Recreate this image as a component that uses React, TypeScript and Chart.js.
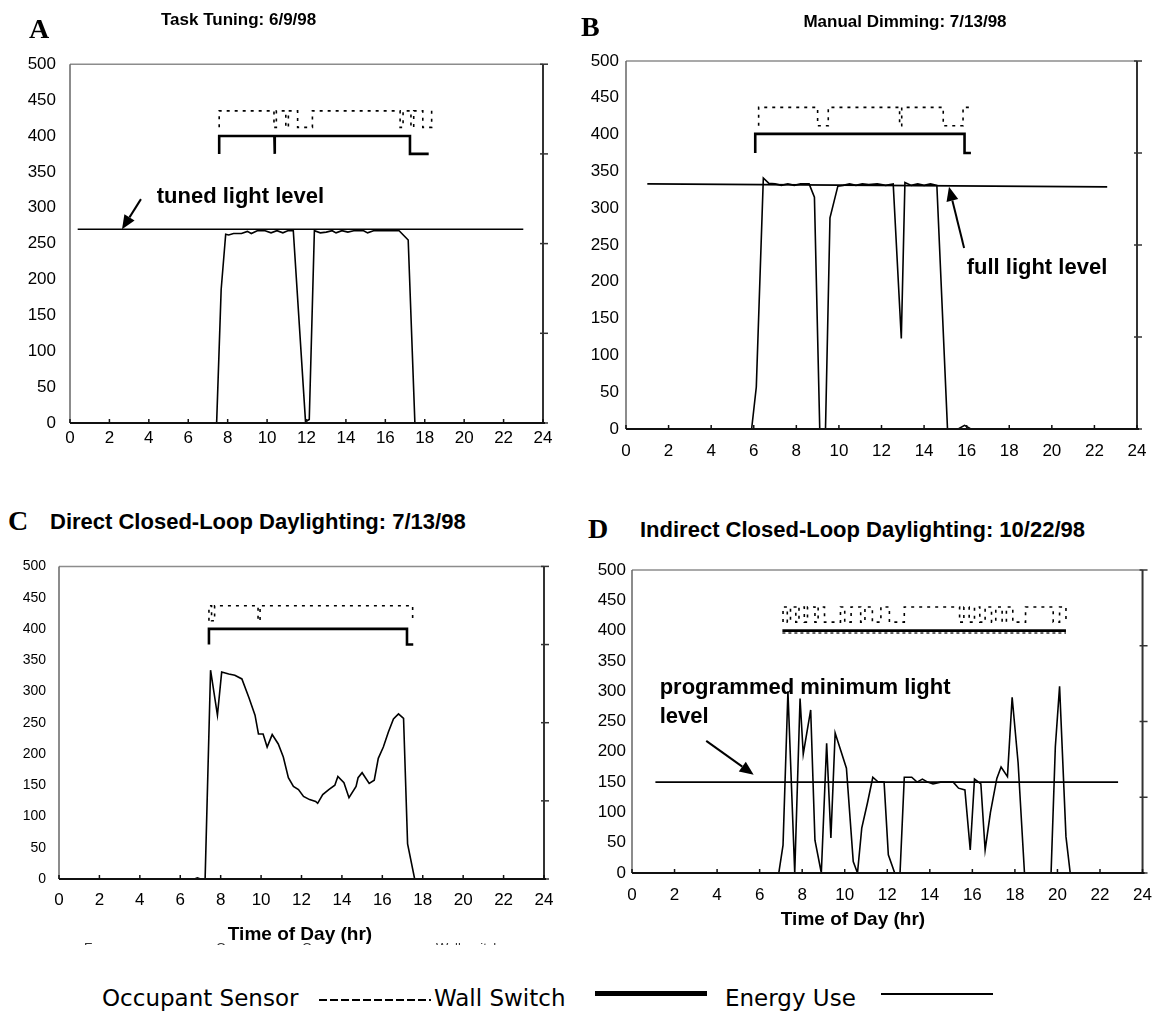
import React, { useEffect, useRef } from "react";
import { Chart, registerables } from "chart.js";
Chart.register(...registerables);

type Pt = [number, number];

const SANS = '"Liberation Sans", Arial, Helvetica, sans-serif';
const SERIF = '"Liberation Serif", "Times New Roman", serif';
const LEGEND_FONT = '"DejaVu Sans", Verdana, sans-serif';

// shared axes
const hourTicks = [0, 2, 4, 6, 8, 10, 12, 14, 16, 18, 20, 22, 24];
const lightTicks = [0, 50, 100, 150, 200, 250, 300, 350, 400, 450, 500];
const frameTicks = [0, 125, 250, 375, 500];

// ---------- Panel A: Task Tuning 6/9/98 ----------
const taskEnergy: Pt[] = [
  [0, 0], [7.44, 0], [7.67, 186], [7.9, 263], [8.05, 262], [8.3, 264], [8.7, 264], [9.0, 267],
  [9.2, 264], [9.5, 268], [9.9, 268], [10.2, 265], [10.5, 268], [10.8, 265], [11.05, 268],
  [11.33, 268], [11.95, 2], [12.14, 5], [12.4, 268], [12.7, 265], [13.0, 266], [13.3, 268],
  [13.5, 265], [13.8, 268], [14.1, 266], [14.4, 268], [14.9, 268], [15.1, 265], [15.4, 268],
  [16.0, 268], [16.7, 268], [17.16, 255], [17.5, 0], [23.5, 0],
];
const taskLevel: Pt[] = [[0.39, 270], [23.0, 270]];
const taskWall: Pt[] = [
  [7.57, 375], [7.57, 400], [10.37, 400], [10.37, 375], [10.4, 375], [10.4, 400],
  [17.25, 400], [17.25, 375], [18.2, 375],
];
const taskOccupant: Pt[] = [
  [7.57, 412], [7.57, 435], [10.35, 435], [10.35, 412], [10.47, 412], [10.47, 435],
  [10.95, 435], [10.95, 412], [11.08, 412], [11.08, 435], [11.55, 435], [11.55, 412],
  [12.3, 412], [12.3, 435], [16.75, 435], [16.75, 412], [16.9, 412], [16.9, 435],
  [17.3, 435], [17.3, 412], [17.44, 412], [17.44, 435], [17.9, 435], [17.9, 412],
  [18.35, 412], [18.35, 435],
];

// ---------- Panel B: Manual Dimming 7/13/98 ----------
const dimEnergy: Pt[] = [
  [0.5, 0], [5.9, 0], [6.12, 57], [6.45, 341], [6.7, 334], [7.0, 333], [7.3, 331], [7.6, 333],
  [7.9, 331], [8.2, 333], [8.6, 333], [8.85, 315], [9.1, 0], [9.37, 0], [9.58, 287], [9.95, 330],
  [10.2, 331], [10.5, 333], [10.8, 331], [11.1, 333], [11.4, 332], [11.8, 333], [12.2, 331],
  [12.55, 333], [12.93, 123], [13.1, 335], [13.4, 331], [13.7, 333], [14.0, 331], [14.3, 333],
  [14.6, 331], [15.1, 0], [15.6, 0], [15.9, 5], [16.2, 0], [23.5, 0],
];
const dimLevel: Pt[] = [[1.0, 333], [22.6, 329]];
const dimWall: Pt[] = [[6.07, 375], [6.07, 401], [15.9, 401], [15.9, 375], [16.2, 375]];
const dimOccupant: Pt[] = [
  [6.23, 412], [6.23, 437], [9.0, 437], [9.0, 412], [9.5, 412], [9.5, 437], [12.85, 437],
  [12.85, 412], [12.95, 412], [12.95, 437], [14.9, 437], [14.9, 412], [15.83, 412],
  [15.83, 437], [16.13, 437],
];

// ---------- Panel C: Direct Closed-Loop Daylighting 7/13/98 ----------
const directEnergy: Pt[] = [
  [0, 0], [6.7, 0], [6.85, 2], [7.0, 0], [7.23, 0], [7.5, 334], [7.84, 262], [8.05, 331],
  [8.4, 328], [8.7, 326], [9.05, 320], [9.4, 290], [9.7, 262], [9.87, 232], [10.1, 232],
  [10.3, 211], [10.55, 231], [10.85, 216], [11.1, 195], [11.35, 162], [11.6, 148], [11.85, 143],
  [12.1, 132], [12.4, 127], [12.7, 124], [12.8, 121], [13.05, 135], [13.35, 143], [13.65, 150],
  [13.8, 164], [14.1, 154], [14.35, 130], [14.7, 148], [14.8, 162], [15.0, 170], [15.35, 153],
  [15.6, 158], [15.8, 193], [16.05, 211], [16.3, 235], [16.55, 256], [16.8, 264], [17.05, 257],
  [17.25, 56], [17.6, 0], [23.5, 0],
];
const directWall: Pt[] = [[7.42, 375], [7.42, 400], [17.22, 400], [17.22, 375], [17.53, 375]];
const directOccupant: Pt[] = [
  [7.42, 413], [7.42, 437], [7.55, 437], [7.55, 413], [7.7, 413], [7.7, 437], [9.85, 437],
  [9.85, 413], [9.95, 413], [9.95, 437], [17.5, 437], [17.5, 413],
];

// ---------- Panel D: Indirect Closed-Loop Daylighting 10/22/98 ----------
const indirectEnergy: Pt[] = [
  [0, 0], [6.9, 0], [7.1, 46], [7.33, 300], [7.65, 0], [7.9, 288], [8.05, 196], [8.4, 269],
  [8.6, 54], [8.9, 0], [9.15, 214], [9.35, 58], [9.55, 231], [10.08, 173], [10.4, 19], [10.6, 0],
  [10.8, 74], [11.07, 116], [11.32, 158], [11.55, 151], [11.85, 150], [12.05, 30], [12.35, 0],
  [12.6, 0], [12.8, 158], [13.15, 158], [13.4, 150], [13.65, 155], [13.9, 150], [14.15, 147],
  [14.5, 150], [15.1, 150], [15.35, 140], [15.65, 137], [15.9, 38], [16.1, 155], [16.4, 147],
  [16.6, 38], [16.85, 100], [17.15, 156], [17.35, 175], [17.65, 159], [17.87, 290], [18.15, 182],
  [18.45, 0], [19.7, 0], [19.9, 208], [20.1, 308], [20.4, 60], [20.6, 0], [23.5, 0],
];
const indirectLevel: Pt[] = [[1.1, 150], [22.85, 150]];
const indirectWall: Pt[] = [[7.07, 400], [20.4, 400]];
const indirectOccupant: Pt[] = [
  [7.1, 414], [7.1, 439], [7.3, 439], [7.3, 414], [7.45, 414], [7.45, 439], [7.7, 439],
  [7.7, 414], [7.85, 414], [7.85, 439], [8.1, 439], [8.1, 414], [8.25, 414], [8.25, 439],
  [8.6, 439], [8.6, 414], [8.75, 414], [8.75, 439], [9.05, 439], [9.05, 414], [9.8, 414],
  [9.8, 439], [10.0, 439], [10.0, 414], [10.3, 414], [10.3, 439], [10.75, 439], [10.75, 414],
  [10.95, 414], [10.95, 439], [11.3, 439], [11.3, 414], [11.7, 414], [11.7, 439], [12.1, 439],
  [12.1, 414], [12.8, 414], [12.8, 439], [15.4, 439], [15.4, 414], [15.6, 414], [15.6, 439],
  [15.85, 439], [15.85, 414], [16.1, 414], [16.1, 439], [16.35, 439], [16.35, 414], [16.6, 414],
  [16.6, 439], [16.9, 439], [16.9, 414], [17.1, 414], [17.1, 439], [17.4, 439], [17.4, 414],
  [17.6, 414], [17.6, 439], [17.9, 439], [17.9, 414], [18.5, 414], [18.5, 439], [19.8, 439],
  [19.8, 414], [20.1, 414], [20.1, 439], [20.4, 439], [20.4, 414],
];
const indirectWallShadow: Pt[] = [[7.07, 396], [20.4, 396]];

type Note = { text: string; at: Pt };
type Arrow = { from: Pt; to: Pt };

interface PanelSpec {
  energy: Pt[];
  level: Pt[] | null;
  wall: Pt[];
  occupant: Pt[];
  extraDotted?: Pt[];
  box: { left: number; top: number; width: number; height: number };
  plot: { l: number; t: number; r: number; b: number };
  yFont: number;
  xFont: number;
  yPad: number;
  xPad: number;
  notes: Note[];
  arrows: Arrow[];
}

const panels: PanelSpec[] = [
  {
    energy: taskEnergy, level: taskLevel, wall: taskWall, occupant: taskOccupant,
    box: { left: 0, top: 40, width: 565, height: 430 },
    plot: { l: 70, t: 58, r: 543, b: 423 },
    yFont: 17, xFont: 17, yPad: 14, xPad: 5,
    notes: [{ text: "tuned light level", at: [4.4, 315] }],
    arrows: [{ from: [3.6, 312], to: [2.64, 270] }],
  },
  {
    energy: dimEnergy, level: dimLevel, wall: dimWall, occupant: dimOccupant,
    box: { left: 565, top: 40, width: 599, height: 430 },
    plot: { l: 626, t: 61, r: 1137, b: 429 },
    yFont: 17, xFont: 17, yPad: 7, xPad: 12,
    notes: [{ text: "full light level", at: [16.0, 219] }],
    arrows: [{ from: [15.88, 246], to: [15.17, 329] }],
  },
  {
    energy: directEnergy, level: null, wall: directWall, occupant: directOccupant,
    box: { left: 0, top: 545, width: 565, height: 385 },
    plot: { l: 59, t: 562, r: 544, b: 879 },
    yFont: 14, xFont: 17, yPad: 13, xPad: 11,
    notes: [],
    arrows: [],
  },
  {
    energy: indirectEnergy, level: indirectLevel, wall: indirectWall, occupant: indirectOccupant,
    extraDotted: indirectWallShadow,
    box: { left: 565, top: 550, width: 599, height: 360 },
    plot: { l: 632, t: 570, r: 1148, b: 873 },
    yFont: 17, xFont: 17, yPad: 6, xPad: 12,
    notes: [
      { text: "programmed minimum light", at: [1.3, 305] },
      { text: "level", at: [1.3, 257] },
    ],
    arrows: [{ from: [3.49, 218], to: [5.72, 162] }],
  },
];

const toXY = (pts: Pt[]) => pts.map(([x, y]) => ({ x, y }));

function PanelChart({ spec }: { spec: PanelSpec }) {
  const ref = useRef<HTMLCanvasElement | null>(null);
  useEffect(() => {
    if (!ref.current) return;
    const { box, plot } = spec;
    const deco = {
      id: "deco",
      afterDatasetsDraw(chart: any) {
        const { ctx, chartArea: a, scales } = chart;
        const line = (x1: number, y1: number, x2: number, y2: number, c: string, w: number) => {
          ctx.beginPath();
          ctx.strokeStyle = c;
          ctx.lineWidth = w;
          ctx.moveTo(x1, y1);
          ctx.lineTo(x2, y2);
          ctx.stroke();
        };
        ctx.save();
        ctx.setLineDash([]);
        line(a.left, a.top, a.right, a.top, "#8c8c8c", 1.5);
        line(a.left, a.top, a.left, a.bottom, "#666", 1.5);
        line(a.right, a.top, a.right, a.bottom + 1, "#333", 2);
        frameTicks.forEach((v) => {
          const y = scales.y.getPixelForValue(v);
          line(a.right - 3, y, a.right + 5, y, "#333", 1.5);
        });
        line(a.left, a.bottom, a.right + 2, a.bottom, "#111", 2);
        hourTicks.forEach((v) => {
          const x = scales.x.getPixelForValue(v);
          line(x, a.bottom, x, a.bottom - 4, "#111", 1.5);
        });
        spec.arrows.forEach((ar) => {
          const x1 = scales.x.getPixelForValue(ar.from[0]);
          const y1 = scales.y.getPixelForValue(ar.from[1]);
          const x2 = scales.x.getPixelForValue(ar.to[0]);
          const y2 = scales.y.getPixelForValue(ar.to[1]);
          const ang = Math.atan2(y2 - y1, x2 - x1);
          const hl = 14, hw = 6;
          const bx = x2 - hl * Math.cos(ang);
          const by = y2 - hl * Math.sin(ang);
          line(x1, y1, bx, by, "#000", 2);
          ctx.beginPath();
          ctx.fillStyle = "#000";
          ctx.moveTo(x2, y2);
          ctx.lineTo(bx + hw * Math.sin(ang), by - hw * Math.cos(ang));
          ctx.lineTo(bx - hw * Math.sin(ang), by + hw * Math.cos(ang));
          ctx.closePath();
          ctx.fill();
        });
        ctx.fillStyle = "#000";
        ctx.font = `bold 22px ${SANS}`;
        ctx.textAlign = "left";
        ctx.textBaseline = "middle";
        spec.notes.forEach((n) => {
          ctx.fillText(n.text, scales.x.getPixelForValue(n.at[0]), scales.y.getPixelForValue(n.at[1]));
        });
        ctx.restore();
      },
    };
    const datasets: any[] = [
      { data: toXY(spec.energy), borderColor: "#000", borderWidth: 1.6 },
    ];
    if (spec.level) datasets.push({ data: toXY(spec.level), borderColor: "#000", borderWidth: 1.6 });
    datasets.push({ data: toXY(spec.wall), borderColor: "#000", borderWidth: 2.6 });
    datasets.push({ data: toXY(spec.occupant), borderColor: "#000", borderWidth: 1.6, borderDash: [3, 5] });
    if (spec.extraDotted)
      datasets.push({ data: toXY(spec.extraDotted), borderColor: "#222", borderWidth: 1.4, borderDash: [3, 3] });
    datasets.forEach((d) => {
      d.pointRadius = 0;
      d.fill = false;
      d.tension = 0;
    });
    const chart = new Chart(ref.current, {
      type: "line",
      data: { datasets },
      options: {
        responsive: false,
        animation: false,
        devicePixelRatio: 1,
        layout: {
          padding: { top: plot.t - box.top, right: box.left + box.width - plot.r, left: 0, bottom: 0 },
        },
        plugins: { legend: { display: false }, tooltip: { enabled: false } },
        scales: {
          x: {
            type: "linear",
            min: 0,
            max: 24,
            afterBuildTicks: (s: any) => {
              s.ticks = hourTicks.map((v) => ({ value: v }));
            },
            afterFit: (s: any) => {
              s.height = box.top + box.height - plot.b;
            },
            grid: { display: false, drawTicks: false },
            border: { display: false },
            ticks: {
              padding: spec.xPad,
              color: "#000",
              font: { family: SANS, size: spec.xFont },
              maxRotation: 0,
              autoSkip: false,
            },
          },
          y: {
            type: "linear",
            min: 0,
            max: 500,
            afterBuildTicks: (s: any) => {
              s.ticks = lightTicks.map((v) => ({ value: v }));
            },
            afterFit: (s: any) => {
              s.width = plot.l - box.left;
            },
            grid: { display: false, drawTicks: false },
            border: { display: false },
            ticks: { padding: spec.yPad, color: "#000", font: { family: SANS, size: spec.yFont } },
          },
        },
      } as any,
      plugins: [deco],
    });
    return () => chart.destroy();
  }, [spec]);
  return (
    <canvas
      ref={ref}
      width={spec.box.width}
      height={spec.box.height}
      style={{ position: "absolute", left: spec.box.left, top: spec.box.top, width: spec.box.width, height: spec.box.height }}
    />
  );
}

function Txt(props: {
  text: string; left: number; capTop: number; size: number; family: string; bold?: boolean;
  center?: boolean; capRatio: number; color?: string;
}) {
  return (
    <div
      style={{
        position: "absolute",
        left: props.left,
        top: props.capTop - props.capRatio * props.size,
        fontSize: props.size,
        lineHeight: 1,
        fontFamily: props.family,
        fontWeight: props.bold ? "bold" : "normal",
        whiteSpace: "nowrap",
        color: props.color || "#000",
        transform: props.center ? "translateX(-50%)" : undefined,
      }}
    >
      {props.text}
    </div>
  );
}

const hiddenLegendWords = [
  { text: "Energy use", left: 84 },
  { text: "Occupancy", left: 216 },
  { text: "Occupancy", left: 302 },
  { text: "Wall switch", left: 436 },
];

export default function App() {
  return (
    <div style={{ position: "absolute", left: 0, top: 0, width: 1164, height: 1022, background: "#fff", overflow: "hidden" }}>
      {panels.map((p, i) => (
        <PanelChart key={i} spec={p} />
      ))}
      {/* panel letters */}
      <Txt text="A" left={29} capTop={20} size={28} family={SERIF} bold capRatio={0.177} />
      <Txt text="B" left={581} capTop={18} size={28} family={SERIF} bold capRatio={0.177} />
      <Txt text="C" left={8} capTop={512} size={28} family={SERIF} bold capRatio={0.177} />
      <Txt text="D" left={588} capTop={520} size={28} family={SERIF} bold capRatio={0.177} />
      {/* titles */}
      <Txt text="Task Tuning: 6/9/98" left={161} capTop={13} size={17} family={SANS} bold capRatio={0.13} />
      <Txt text="Manual Dimming: 7/13/98" left={905} capTop={15} size={17} family={SANS} bold center capRatio={0.13} />
      <Txt text="Direct Closed-Loop Daylighting: 7/13/98" left={50} capTop={514} size={22} family={SANS} bold capRatio={0.13} />
      <Txt text="Indirect Closed-Loop Daylighting: 10/22/98" left={640} capTop={522} size={22} family={SANS} bold capRatio={0.13} />
      {/* axis titles */}
      <Txt text="Time of Day (hr)" left={300} capTop={926} size={19} family={SANS} bold center capRatio={0.13} />
      <Txt text="Time of Day (hr)" left={853} capTop={911} size={19} family={SANS} bold center capRatio={0.13} />
      {/* clipped remnant of an old legend row under panel C */}
      <div style={{ position: "absolute", left: 0, top: 942, width: 560, height: 3, overflow: "hidden" }}>
        {hiddenLegendWords.map((w, i) => (
          <div
            key={i}
            style={{ position: "absolute", left: w.left, top: -1, fontSize: 13, lineHeight: 1, fontFamily: SANS, color: "#333", whiteSpace: "nowrap" }}
          >
            {w.text}
          </div>
        ))}
      </div>
      {/* legend */}
      <Txt text="Occupant Sensor" left={102} capTop={990} size={23} family={LEGEND_FONT} capRatio={0.117} />
      <div
        style={{
          position: "absolute", left: 319, top: 999, width: 112, height: 2,
          background: "repeating-linear-gradient(to right, #000 0px, #000 8px, transparent 8px, transparent 11px)",
        }}
      />
      <Txt text="Wall Switch" left={434} capTop={990} size={23} family={LEGEND_FONT} capRatio={0.117} />
      <div style={{ position: "absolute", left: 595, top: 991, width: 112, height: 5, background: "#000" }} />
      <Txt text="Energy Use" left={725} capTop={990} size={23} family={LEGEND_FONT} capRatio={0.117} />
      <div style={{ position: "absolute", left: 881, top: 993, width: 112, height: 2, background: "#000" }} />
    </div>
  );
}
